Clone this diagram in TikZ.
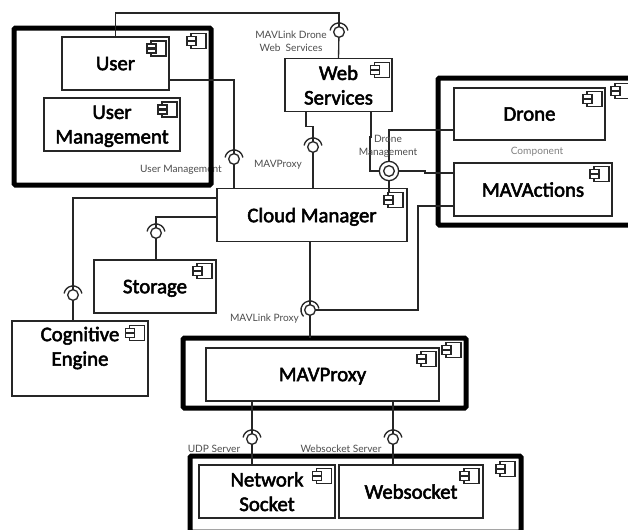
\documentclass[tikz,border=0pt]{standalone}
\usepackage{fontspec}
\setmainfont{Lato}
\newfontfamily\boxfont[FakeBold=2.5]{Carlito}
\usepackage{tikz}

\tikzset{
    boxsize/.style 2 args={minimum width=#1*0.75pt, minimum height=#2*0.75pt},
    comp/.style={rectangle, draw=black!85, line width=1pt, fill=white, inner sep=0pt, outer sep=0pt, align=center, text depth=0pt, font=\boxfont\fontsize{15.6}{18.4}\selectfont},
    frame/.style={rectangle, draw=black, line width=3.75pt, rounded corners=1pt, inner sep=0pt, outer sep=0pt},
    ball/.style={circle, draw=black!85, line width=1pt, fill=white, inner sep=0pt, outer sep=0pt, minimum size=8pt},
    tag/.style={font=\fontsize{7.6}{9.6}\selectfont, text=black!70, inner sep=0pt, align=center},
    link/.style={draw=black!85, line width=1pt},
    compicon/.pic={
        \draw[line width=0.8pt, draw=black!85, fill=white] (-7.5,-7.5) rectangle (7.5,7.5);
        \draw[line width=0.8pt, draw=black!85, fill=white] (-11.5,-4.5) rectangle (-2.5,-0.5);
        \draw[line width=0.8pt, draw=black!85, fill=white] (-11.5,0.5) rectangle (-2.5,4.5);
    }
}

\begin{document}
\begin{tikzpicture}[x=0.75pt, y=-0.75pt]

\useasboundingbox (0,0) rectangle (628,529);
\clip (0,0) rectangle (628,529);

% Labels under the frames
\node[tag] (tagUserMgmt) at (181,170) {User Management};
\node[tag] (tagProxy) at (278,165) {MAVProxy};
\node[tag] (tagWeb) at (291,41) {MAVLink Drone\\Web\ \ Services};
\node[tag, text=black!50] (tagComponent) at (537,152) {Component};
\node[tag] (tagLink) at (264.5,319) {MAVLink Proxy};
\node[tag] (tagUdp) at (214,449) {UDP Server};
\node[tag] (tagSocket) at (341,449) {Websocket Server};

% Frames
\node[frame, boxsize={197}{157}] (userGroup) at (112.5,106.5) {};
\node[frame, boxsize={210}{147}] (droneGroup) at (543,151.5) {};
\node[frame, boxsize={283}{70}] (proxyGroup) at (324.5,373) {};
\node[frame, boxsize={331}{76}] (socketGroup) at (355.5,494) {};

% Components
\node[comp, boxsize={107}{53}] (user) at (115.5,63.5) {User};
\node[comp, boxsize={136}{53}] (userMgmt) at (112,124.5) {User\\Management};
\node[comp, boxsize={107}{53}] (web) at (338.5,85) {Web\\Services};
\node[comp, boxsize={151}{52}] (drone) at (529.5,114) {Drone};
\node[comp, boxsize={158}{53}] (actions) at (533,189.5) {MAVActions};
\node[comp, boxsize={190}{53}] (cloud) at (312,215) {Cloud Manager};
\node[comp, boxsize={122}{53}] (storage) at (155,286.5) {Storage};
\node[comp, boxsize={136}{75}] (cognitive) at (80,358.5) {Cognitive\\Engine\\~};
\node[comp, boxsize={233}{53}] (proxy) at (322.5,374.5) {MAVProxy};
\node[comp, boxsize={136}{53}] (network) at (267,491.5) {Network\\Socket};
\node[comp, boxsize={144}{53}] (websocket) at (411,491.5) {Websocket};

% Sockets
\foreach \name/\pos/\from/\to in {sockWeb/{339,32}/10/170, sockUser/{234,159}/10/170, sockProxy/{313,147}/10/170,
    sockStorage/{156,233}/10/170, sockCognitive/{73,295}/10/170, sockLink/{310,310}/10/225,
    sockUdp/{252,439}/10/170, sockSocket/{393,439}/10/170}{
    \node[ball] (\name) at (\pos) {};
    \draw[link] (\name.center) ++(\from:6.8pt) arc[start angle=\from, end angle=\to, radius=6.8pt];
}
\node[ball, minimum size=14.5pt] (ringDrone) at (389,171) {};
\node[ball] (sockDrone) at (389,171) {};

% Free ends
\coordinate (topBus) at (339,13);
\coordinate (userOut) at (169,80);
\coordinate (webOutA) at (306,111.5);
\coordinate (webBendA) at (306,126.5);
\coordinate (webOutB) at (371,111.5);
\coordinate (webBendB) at (370,137);
\coordinate (droneOut) at (454,130);
\coordinate (actionsOut) at (454,173);
\coordinate (actionsBend) at (425,173);
\coordinate (actionsIn) at (425,171);
\coordinate (actionsLow) at (454,206);
\coordinate (actionsDown) at (418,310);
\coordinate (cloudIcon) at (389,194);
\coordinate (cloudCog) at (217,198);
\coordinate (cloudStore) at (217,217);

% Relationships
\draw[link] (user.north) |- (topBus) -- (sockWeb);
\draw[link] (sockWeb) -- (web.north);
\draw[link] (userOut) -| (sockUser);
\draw[link] (sockUser) -- (sockUser |- cloud.north);
\draw[link] (webOutA) -- (webBendA) -| (sockProxy);
\draw[link] (sockProxy) -- (sockProxy |- cloud.north);
\draw[link] (webOutB) -- (webOutB |- webBendB) -- (webBendB) |- (ringDrone);
\draw[link] (droneOut) -| (ringDrone);
\draw[link] (actionsOut) -- (actionsBend) -- (actionsIn) -- (ringDrone);
\draw[link] (ringDrone) -- (cloudIcon);
\draw[link] (cloudCog) -| (sockCognitive);
\draw[link] (sockCognitive) -- (sockCognitive |- cognitive.north);
\draw[link] (cloudStore) -| (sockStorage);
\draw[link] (sockStorage) -- (sockStorage |- storage.north);
\draw[link] (sockLink |- cloud.south) -- (sockLink);
\draw[link] (sockLink) -- (sockLink |- proxyGroup.north);
\draw[link] (actionsLow) -| (actionsDown) -- (sockLink);
\draw[link] (sockUdp |- proxy.south) -- (sockUdp);
\draw[link] (sockUdp) -- (sockUdp |- network.north);
\draw[link] (sockSocket |- proxy.south) -- (sockSocket);
\draw[link] (sockSocket) -- (sockSocket |- websocket.north);

% Labels over the lines
\node[tag] (tagDrone) at (388,146) {Drone\\Management};

% Icons
\foreach \pos in {{198.5,41}, {158.5,48.5}, {169.5,109.5}, {382,70}, {622.5,91}, {594.5,99}, {601.5,174},
    {395.5,200}, {204.5,271}, {137,333}, {453.5,350}, {428.5,359}, {507.5,469}, {324,476}, {471.5,476}}{
    \pic at (\pos) {compicon};
}

\end{tikzpicture}
\end{document}
